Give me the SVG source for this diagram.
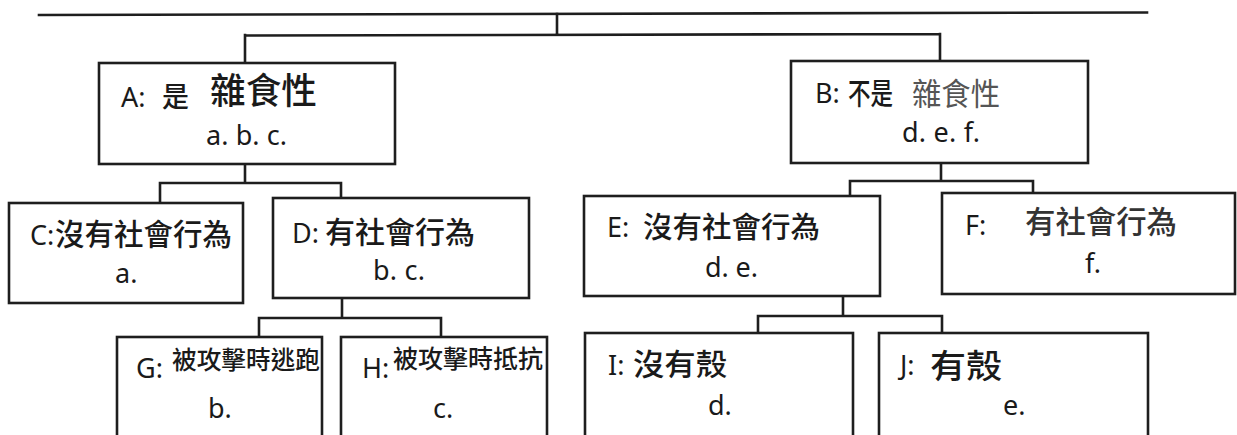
<svg xmlns="http://www.w3.org/2000/svg" width="1237" height="435" viewBox="0 0 1237 435">
<style>
.bg{fill:#ffffff}
.box{fill:#ffffff;stroke:#1e1e1e;stroke-width:2.6}
.con{fill:none;stroke:#1e1e1e;stroke-width:2.6;stroke-linecap:square}
.lat{font-family:"Noto Sans","Open Sans","Liberation Sans",sans-serif;font-size:27px;fill:#1a1a1a}
.cjk{font-family:"Noto Sans CJK TC","Noto Sans CJK SC",sans-serif;fill:#1a1a1a;font-weight:500}
.pencil{fill:#555555;font-weight:400}
.soft{fill:#333333}
</style>
<rect class="bg" x="0" y="0" width="1237" height="435"/>
<g id="connectors">
<path class="con" d="M39 15 L1147 12.5"/>
<path class="con" d="M557 14 V35 M245 35.5 L940 34 M245 35 V63 M940 34 V61"/>
<path class="con" d="M245 164 V183 M160 183 H341 M160 183 V203 M341 183 V198"/>
<path class="con" d="M941 163 V181 M850 181 H1033 M850 181 V196 M1033 181 V193"/>
<path class="con" d="M342 298 V318 M259 318 H441 M259 318 V337 M441 318 V337"/>
<path class="con" d="M843 296 V316 M758 316 H942 M758 316 V333 M942 316 V333"/>
</g>
<g id="nodeA">
<rect class="box" x="99" y="63" width="296" height="101"/>
<text class="lat" x="121" y="107">A:</text>
<text class="cjk" x="162" y="107" font-size="28" textLength="27" lengthAdjust="spacingAndGlyphs">是</text>
<text class="cjk" x="210" y="104" font-size="36" textLength="107" lengthAdjust="spacingAndGlyphs">雜食性</text>
<text class="lat" x="206" y="145" textLength="81" lengthAdjust="spacing">a. b. c.</text>
</g>
<g id="nodeB">
<rect class="box" x="791" y="61" width="297" height="102"/>
<text class="lat" x="815" y="103">B:</text>
<text class="cjk" x="848" y="104" font-size="30" textLength="45" lengthAdjust="spacingAndGlyphs">不是</text>
<text class="cjk pencil" x="912" y="105" font-size="31" textLength="88" lengthAdjust="spacingAndGlyphs">雜食性</text>
<text class="lat" x="902" y="142" textLength="78" lengthAdjust="spacing">d. e. f.</text>
</g>
<g id="nodeC">
<rect class="box" x="9" y="203" width="234" height="100"/>
<text class="lat" x="30" y="245">C:</text>
<text class="cjk" x="55" y="245" font-size="30" textLength="177" lengthAdjust="spacingAndGlyphs">沒有社會行為</text>
<text class="lat" x="115" y="283">a.</text>
</g>
<g id="nodeD">
<rect class="box" x="273" y="198" width="256" height="100"/>
<text class="lat" x="292" y="243">D:</text>
<text class="cjk" x="325" y="243" font-size="30" textLength="150" lengthAdjust="spacingAndGlyphs">有社會行為</text>
<text class="lat" x="373" y="280" textLength="52" lengthAdjust="spacing">b. c.</text>
</g>
<g id="nodeE">
<rect class="box" x="584" y="196" width="296" height="100"/>
<text class="lat" x="607" y="237">E:</text>
<text class="cjk" x="643" y="238" font-size="29" textLength="177" lengthAdjust="spacingAndGlyphs">沒有社會行為</text>
<text class="lat" x="705" y="277" textLength="53" lengthAdjust="spacing">d. e.</text>
</g>
<g id="nodeF">
<rect class="box" x="942" y="193" width="293" height="101"/>
<text class="lat" x="965" y="235">F:</text>
<text class="cjk soft" x="1025" y="233" font-size="31" textLength="152" lengthAdjust="spacingAndGlyphs">有社會行為</text>
<text class="lat" x="1085" y="273">f.</text>
</g>
<g id="nodeG">
<rect class="box" x="117" y="337" width="205" height="110"/>
<text class="lat" x="136" y="378">G:</text>
<text class="cjk" x="172" y="369" font-size="25" textLength="148" lengthAdjust="spacingAndGlyphs">被攻擊時逃跑</text>
<text class="lat" x="208" y="418">b.</text>
</g>
<g id="nodeH">
<rect class="box" x="341" y="337" width="206" height="110"/>
<text class="lat" x="362" y="378">H:</text>
<text class="cjk" x="393" y="368" font-size="25" textLength="150" lengthAdjust="spacingAndGlyphs">被攻擊時抵抗</text>
<text class="lat" x="433" y="418">c.</text>
</g>
<g id="nodeI">
<rect class="box" x="585" y="333" width="268" height="114"/>
<text class="lat" x="608" y="375">I:</text>
<text class="cjk" x="633" y="375" font-size="30" textLength="94" lengthAdjust="spacingAndGlyphs">沒有殼</text>
<text class="lat" x="708" y="415">d.</text>
</g>
<g id="nodeJ">
<rect class="box" x="879" y="333" width="269" height="114"/>
<text class="lat" x="900" y="375">J:</text>
<text class="cjk" x="930" y="378" font-size="33" textLength="72" lengthAdjust="spacingAndGlyphs">有殼</text>
<text class="lat" x="1003" y="415">e.</text>
</g>
</svg>
